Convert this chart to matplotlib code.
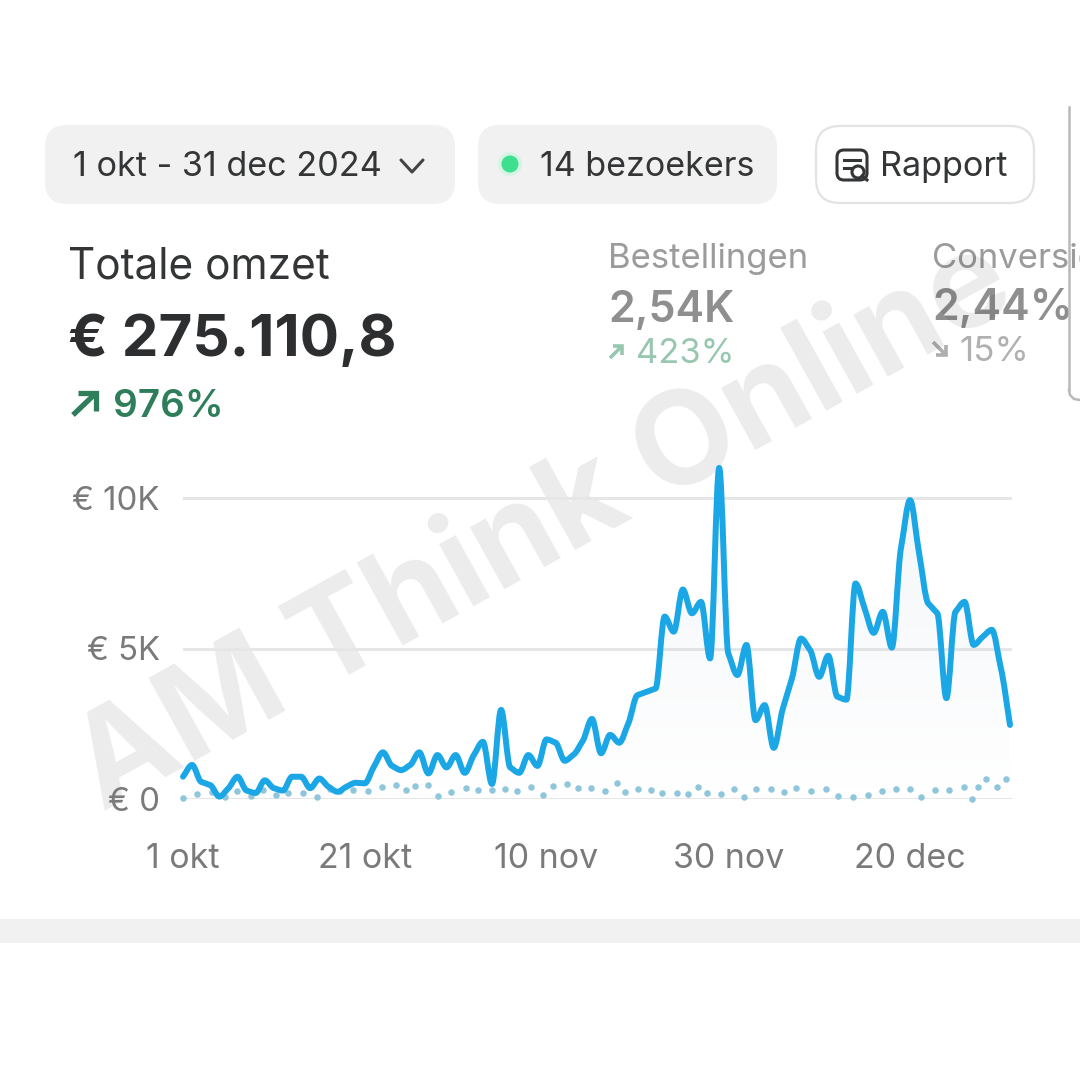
import numpy as np
import matplotlib
matplotlib.use('Agg')
import matplotlib.pyplot as plt
from matplotlib.patches import FancyBboxPatch, Circle, PathPatch, Rectangle
from matplotlib.path import Path

plt.rcParams['font.family'] = ['Inter', 'DejaVu Sans']

# revenue per day in thousands of euro, 1 oct - 31 dec
revenue = [0.74, 1.13, 0.57, 0.46, 0.08, 0.36, 0.74, 0.28, 0.20, 0.62, 0.36, 0.28, 0.74,
           0.74, 0.36, 0.68, 0.41, 0.24, 0.41, 0.54, 0.52, 1.07, 1.55, 1.10, 0.96, 1.13,
           1.55, 0.85, 1.46, 1.05, 1.46, 0.87, 1.46, 1.90, 0.50, 2.96, 1.05, 0.87, 1.46,
           1.10, 1.98, 1.87, 1.27, 1.48, 1.94, 2.66, 1.52, 2.13, 1.87, 2.51, 3.45, 3.56,
           3.67, 6.06, 5.56, 6.96, 6.17, 6.55, 4.67, 11.0, 4.84, 4.12, 5.12, 2.62, 3.12,
           1.70, 3.00, 4.00, 5.33, 4.95, 4.06, 4.76, 3.40, 3.30, 7.16, 6.33, 5.52, 6.22,
           5.03, 8.33, 9.93, 8.16, 6.50, 6.17, 3.35, 6.22, 6.55, 5.12, 5.39, 5.62, 4.34, 2.46]

# dotted comparison series, dots
prev_days = [0, 1.58, 3.15, 4.62, 5.9, 7.48, 8.76, 10.23, 11.59, 13.24, 14.7, 16.17, 17.27,
             18.74, 20.39, 21.93, 23.47, 24.57, 25.56, 26.95, 28.02, 29.52, 31.1, 32.45,
             33.99, 35.46, 36.78, 38.25, 39.64, 40.67, 42.2, 43.42, 44.85, 46.39, 47.71,
             48.66, 50.05, 51.45, 52.69, 54.31, 55.59, 56.62, 57.61, 59.19, 60.62, 61.75,
             63.0, 64.65, 66.15, 67.5, 69.09, 70.7, 72.06, 73.71, 75.32, 76.9, 78.48, 80.0,
             81.26, 82.7, 84.34, 85.92, 86.84, 87.46, 88.41, 89.62, 90.61]
prev_values = [0.02, 0.17, 0.24, 0.07, 0.28, 0.11, 0.30, 0.12, 0.21, 0.21, 0.07, 0.32, 0.28,
               0.30, 0.25, 0.39, 0.45, 0.30, 0.44, 0.46, 0.10, 0.22, 0.37, 0.30, 0.30, 0.32,
               0.27, 0.39, 0.13, 0.43, 0.51, 0.36, 0.36, 0.27, 0.52, 0.22, 0.33, 0.30, 0.21,
               0.21, 0.16, 0.41, 0.19, 0.17, 0.33, 0.08, 0.33, 0.33, 0.22, 0.37, 0.27, 0.32,
               0.10, 0.06, 0.12, 0.25, 0.32, 0.33, 0.08, 0.30, 0.30, 0.41, 0.01, 0.41, 0.67,
               0.39, 0.67]

x_ticks = [0, 20, 40, 60, 80]
x_labels = ['1 okt', '21 okt', '10 nov', '30 nov', '20 dec']
y_ticks = [0, 5, 10]
y_labels = ['€ 0', '€ 5K', '€ 10K']

PX = 100 / 72  # pixels per point


def smooth_path(xs, ys, close_at=None):
    # monotone cubic through the daily values, flat at peaks and shoulders
    xs = np.asarray(xs, float)
    ys = np.asarray(ys, float)
    slopes = np.diff(ys) / np.diff(xs)
    tang = np.zeros(len(ys))
    for i in range(1, len(ys) - 1):
        if slopes[i - 1] * slopes[i] > 0:
            tang[i] = np.sign(slopes[i]) * min(abs(slopes[i - 1]), abs(slopes[i]))
    tang[0] = slopes[0]
    tang[-1] = slopes[-1]
    verts = [(xs[0], ys[0])]
    codes = [Path.MOVETO]
    for i in range(len(ys) - 1):
        h = (xs[i + 1] - xs[i]) / 3
        verts += [(xs[i] + h, ys[i] + tang[i] * h), (xs[i + 1] - h, ys[i + 1] - tang[i + 1] * h), (xs[i + 1], ys[i + 1])]
        codes += [Path.CURVE4] * 3
    if close_at is not None:
        verts += [(xs[-1], close_at), (xs[0], close_at), (xs[0], ys[0])]
        codes += [Path.LINETO, Path.LINETO, Path.CLOSEPOLY]
    return Path(verts, codes)


fig = plt.figure(figsize=(10.8, 10.8), dpi=100, facecolor='white')

# page layer in pixel coordinates
ui = fig.add_axes([0, 0, 1, 1])
ui.set_xlim(0, 1080)
ui.set_ylim(1080, 0)
ui.axis('off')


def pill(x0, y0, x1, y1, r, face, edge='none', lw=0):
    ui.add_patch(FancyBboxPatch((x0 + r, y0 + r), x1 - x0 - 2 * r, y1 - y0 - 2 * r,
                                boxstyle=f'round,pad={r},rounding_size={r}',
                                fc=face, ec=edge, lw=lw))


def label(x, y, s, size, color, weight='normal', **kw):
    return ui.text(x, y + 3, s, fontsize=size / PX, color=color, fontweight=weight,
                   va='center', ha=kw.pop('ha', 'left'), **kw)


def arrow(x0, y0, x1, y1, head, color, lw):
    # small corner arrow from (x0,y0) to (x1,y1)
    sx = 1 if x1 > x0 else -1
    sy = 1 if y1 > y0 else -1
    ui.plot([x0, x1], [y0, y1], color=color, lw=lw, solid_capstyle='butt')
    ui.plot([x1 - sx * head, x1, x1], [y1, y1, y1 - sy * head], color=color, lw=lw,
            solid_joinstyle='miter', solid_capstyle='butt')


pill(45, 125, 455, 204, 22, '#f1f1f1')
pill(478, 125, 777, 204, 22, '#f1f1f1')
pill(816, 126, 1034, 203, 24, 'white', '#e3e3e3', 1.6)

dark = '#333536'
label(73, 164, '1 okt - 31 dec 2024', 34.2, dark)
ui.plot([401, 412, 423], [160, 172, 160], color='#444444', lw=2.2, solid_capstyle='round')
ui.add_patch(Circle((510, 164), 12, fc='#d5f5e4', ec='none'))
ui.add_patch(Circle((510, 164), 8.5, fc='#3ee08f', ec='none'))
label(540, 164, '14 bezoekers', 34, dark)
label(880, 164, 'Rapport', 34.2, dark)

# report icon
ui.add_patch(FancyBboxPatch((842, 155), 20, 20, boxstyle='round,pad=5,rounding_size=7',
                            fc='none', ec=dark, lw=2.2))
ui.plot([844, 860], [160, 160], color=dark, lw=2.2)
ui.plot([844, 851], [168, 168], color=dark, lw=2.2)
ui.add_patch(Circle((858, 172), 6, fc='white', ec=dark, lw=2.2))
ui.plot([862, 867], [176, 180], color=dark, lw=2.2)

label(68, 264, 'Totale omzet', 42.4, dark)
label(68, 338, '€ 275.110,8', 58.4, '#2c2e2f', 'bold')
arrow(73, 415, 96, 393, 18, '#2e7d5b', 3.8)
label(113, 404, '976%', 38.6, '#2e7d5b', 'semibold')

label(608, 256, 'Bestellingen', 34.6, '#9b9b9b')
label(608, 308, '2,54K', 43, '#8f8f8f', 'semibold')
arrow(610, 358, 622, 346, 9, '#98c7b0', 2.6)
label(636, 351, '423%', 34.5, '#98c7b0')

label(932, 256, 'Conversie', 34.6, '#9b9b9b')
label(932, 305, '2,44%', 43, '#8f8f8f', 'semibold')
arrow(933, 342, 946, 355, 10, '#aeaeae', 2.6)
label(959, 349, '15%', 35, '#b0b0b0')

# edge of the panel behind, the title runs over it
ui.plot([1069, 1069], [107, 390], color='#b9b9b9', lw=1.8, zorder=4)
ui.plot([1069, 1070, 1074, 1080], [390, 395, 399, 400], color='#b9b9b9', lw=1.8, zorder=4)

ui.add_patch(Rectangle((0, 919), 1080, 24, fc='#f1f1f1', ec='none'))

# watermark
ui.text(545, 528, 'AM Think Online', fontsize=130 / PX, fontweight='bold', color='black', alpha=0.08,
        rotation=29, rotation_mode='anchor', ha='center', va='center', zorder=5)

# chart layer: x 183..1012 px, y 0 at 799 px, 10K at 498 px
top = 440
ax = fig.add_axes([183 / 1080, (1080 - 799) / 1080, (1012 - 183) / 1080, (799 - top) / 1080])
ax.patch.set_alpha(0)
for s in ax.spines.values():
    s.set_visible(False)

days = np.arange(len(revenue))
grad = np.zeros((256, 2, 4))
grad[..., 0:3] = (0.62, 0.70, 0.78)
grad[..., 3] = np.linspace(0.13, 0.0, 256)[:, None]
img = ax.imshow(grad, extent=(0, 91, 0, max(revenue)), origin='upper', aspect='auto', zorder=1)
img.set_clip_path(PathPatch(smooth_path(days, revenue, close_at=0), transform=ax.transData))
ax.set_xlim(0, 91 * 829 / 827)
ax.set_ylim(0, 10 * (799 - top) / 301)

ax.set_yticks(y_ticks)
ax.set_yticklabels(y_labels)
ax.set_xticks(x_ticks)
ax.set_xticklabels(x_labels)
ax.tick_params(axis='y', length=0, pad=23 / PX, labelsize=33 / PX, labelcolor='#7a7a7a')
ax.tick_params(axis='x', length=0, pad=44 / PX, labelsize=34 / PX, labelcolor='#7a7a7a')
ax.grid(axis='y', color='#e6e6e6', lw=2.2)
ax.set_axisbelow(True)

ax.scatter(prev_days, prev_values, s=22, color='#8fc6dc', linewidths=0, zorder=2, clip_on=False)
ax.add_patch(PathPatch(smooth_path(days, revenue), fc='none', ec='#1ba7e6', lw=4.3, capstyle='round',
                       joinstyle='round', zorder=3, clip_on=False))

fig.savefig('out.png', dpi=100, facecolor='white')
